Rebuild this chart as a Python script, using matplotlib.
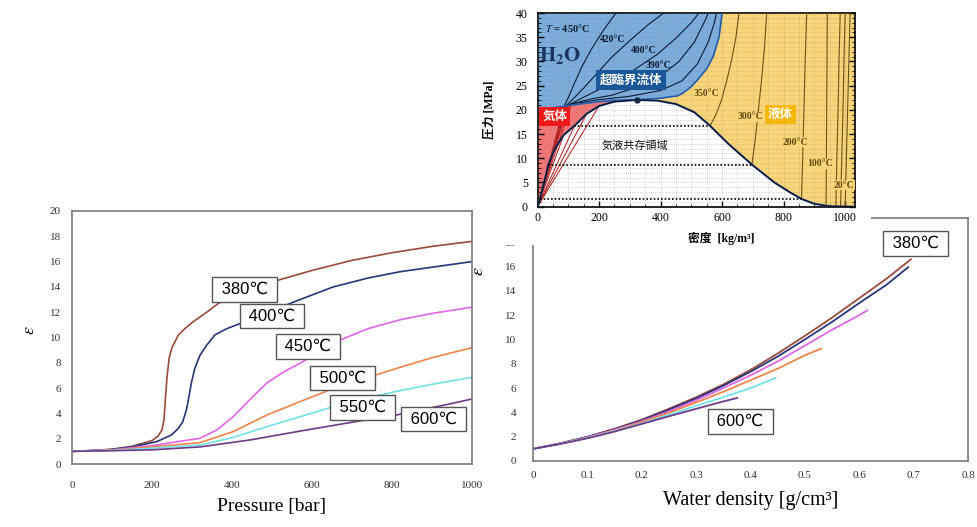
import numpy as np
import matplotlib.pyplot as plt
from matplotlib.ticker import MultipleLocator

plt.rcParams['mathtext.fontset'] = 'stix'

SERIF = ['Liberation Serif', 'DejaVu Serif']
SANS = ['Liberation Sans', 'DejaVu Sans']
JP = ['Liberation Serif', 'Noto Sans CJK JP']
JP_SANS = ['Noto Sans CJK JP', 'DejaVu Sans']

# ---------------- left chart: permittivity vs pressure ----------------
temps = ['380℃', '400℃', '450℃', '500℃', '550℃', '600℃']
colors = ['#9a4b3c', '#27357a', '#e066e6', '#f0854a', '#72e2e6', '#6e3a8a']

p_380 = [0, 50, 100, 150, 200, 215, 225, 230, 234, 238, 243, 250, 266, 282, 303, 337, 366, 431, 512, 600, 700, 800, 900, 1000]
e_380 = [1.0, 1.07, 1.17, 1.4, 1.85, 2.2, 2.7, 3.5, 5.4, 7.0, 8.4, 9.2, 10.2, 10.7, 11.25, 12.0, 12.7, 13.6, 14.5, 15.3, 16.1, 16.7, 17.2, 17.6]
p_400 = [0, 50, 100, 150, 212, 249, 266, 277, 287, 293, 299, 307, 320, 337, 357, 387, 420, 490, 562, 653, 740, 820, 910, 1000]
e_400 = [1.0, 1.06, 1.15, 1.35, 1.77, 2.3, 2.82, 3.35, 4.4, 5.45, 6.5, 7.56, 8.6, 9.4, 10.2, 10.7, 11.1, 12.0, 12.9, 14.0, 14.7, 15.2, 15.6, 16.0]
p_450 = [0, 100, 200, 260, 320, 362, 403, 445, 487, 530, 570, 620, 670, 740, 820, 900, 1000]
e_450 = [1.0, 1.12, 1.45, 1.75, 2.03, 2.69, 3.74, 5.1, 6.4, 7.3, 7.96, 8.9, 9.8, 10.7, 11.4, 11.9, 12.4]
p_500 = [0, 100, 200, 320, 403, 487, 570, 640, 700, 755, 820, 900, 1000]
e_500 = [1.0, 1.1, 1.35, 1.69, 2.56, 3.87, 4.93, 5.8, 6.4, 7.0, 7.64, 8.4, 9.2]
p_550 = [0, 100, 200, 320, 403, 487, 570, 650, 727, 805, 900, 1000]
e_550 = [1.0, 1.08, 1.25, 1.5, 2.1, 2.95, 3.74, 4.5, 5.15, 5.7, 6.3, 6.85]
p_600 = [0, 100, 200, 320, 445, 570, 700, 815, 937, 1000]
e_600 = [1.0, 1.05, 1.12, 1.35, 1.9, 2.6, 3.3, 3.9, 4.7, 5.14]

pressure_sets = [p_380, p_400, p_450, p_500, p_550, p_600]
eps_p_sets = [e_380, e_400, e_450, e_500, e_550, e_600]
# label box centres (pressure, eps)
lab_p = [431, 500, 590, 676, 727, 904]
lab_e = [13.8, 11.7, 9.3, 6.8, 4.47, 3.56]

# ---------------- right chart: permittivity vs density ----------------
d_380 = [0, 0.05, 0.1, 0.15, 0.2, 0.25, 0.3, 0.35, 0.4, 0.45, 0.5, 0.55, 0.6, 0.65, 0.695]
f_380 = [1.0, 1.45, 2.0, 2.65, 3.4, 4.3, 5.25, 6.3, 7.5, 8.85, 10.3, 11.8, 13.4, 15.0, 16.6]
d_400 = [0, 0.05, 0.1, 0.15, 0.2, 0.25, 0.3, 0.35, 0.4, 0.45, 0.5, 0.55, 0.6, 0.65, 0.69]
f_400 = [1.0, 1.45, 1.98, 2.62, 3.35, 4.22, 5.15, 6.2, 7.35, 8.6, 10.0, 11.45, 13.0, 14.5, 15.95]
d_450 = [0, 0.05, 0.1, 0.15, 0.2, 0.25, 0.3, 0.35, 0.4, 0.45, 0.5, 0.55, 0.6, 0.615]
f_450 = [1.0, 1.43, 1.95, 2.57, 3.27, 4.08, 5.0, 6.0, 7.05, 8.2, 9.5, 10.8, 12.0, 12.4]
d_500 = [0, 0.05, 0.1, 0.15, 0.2, 0.25, 0.3, 0.35, 0.4, 0.45, 0.5, 0.53]
f_500 = [1.0, 1.42, 1.92, 2.52, 3.2, 3.98, 4.82, 5.7, 6.65, 7.6, 8.7, 9.25]
d_550 = [0, 0.05, 0.1, 0.15, 0.2, 0.25, 0.3, 0.35, 0.4, 0.446]
f_550 = [1.0, 1.41, 1.9, 2.47, 3.1, 3.8, 4.55, 5.25, 6.0, 6.83]
d_600 = [0, 0.05, 0.1, 0.15, 0.2, 0.25, 0.3, 0.35, 0.3755]
f_600 = [1.0, 1.4, 1.87, 2.42, 3.05, 3.68, 4.3, 4.9, 5.19]

dens_sets = [d_380, d_400, d_450, d_500, d_550, d_600]
eps_d_sets = [f_380, f_400, f_450, f_500, f_550, f_600]

# ---------------- phase diagram of water ----------------
vap_rho = [0, 8, 18, 35, 55, 85, 120, 160, 200, 250, 322]
vap_p = [0, 1.6, 4.0, 8.7, 11.8, 14.8, 16.7, 19.2, 20.8, 21.7, 22.06]
liq_rho = [322, 390, 450, 510, 561, 620, 697, 770, 820, 858, 900, 948, 1032]
liq_p = [22.06, 21.9, 21.2, 19.5, 16.7, 13.0, 8.7, 5.0, 3.0, 1.6, 0.6, 0.1, 0.0]
gas_top_rho = [0, 50, 100, 150, 200, 250, 322]
gas_top_p = [20.0, 20.4, 20.9, 21.3, 21.7, 21.95, 22.06]
crit_rho = [322, 400, 455, 474, 500, 523, 550, 571, 590, 600]
crit_p = [22.06, 22.4, 22.9, 23.5, 24.8, 26.4, 28.5, 31.0, 35.0, 40.0]

sc_iso = {
    450: ([85, 100, 120, 145, 175, 215, 255], [20.5, 22.5, 25.5, 29.0, 32.5, 36.5, 40.0]),
    420: ([90, 115, 150, 190, 240, 300, 360, 410], [20.7, 22.2, 24.5, 27.3, 30.8, 34.3, 37.6, 40.0]),
    400: ([95, 140, 200, 260, 320, 390, 450, 500, 525], [20.8, 22.3, 24.2, 26.2, 28.5, 31.5, 34.8, 38.0, 40.0]),
    390: ([100, 170, 240, 320, 400, 460, 510, 545, 555], [21.0, 22.2, 23.0, 24.6, 27.0, 30.0, 34.0, 38.5, 40.0]),
    380: ([110, 200, 300, 400, 470, 520, 555, 575, 582], [21.2, 22.1, 22.8, 24.0, 26.0, 29.5, 34.0, 38.0, 40.0]),
}
gas_rho_end = [85, 90, 95, 100, 110, 55, 85, 120, 160, 200]
gas_p_end = [20.5, 20.7, 20.8, 21.0, 21.2, 11.8, 14.8, 16.7, 19.2, 20.8]

liq_iso = {
    350: ([561, 580, 598, 615, 630, 645, 655], [16.7, 19.0, 22.0, 26.0, 30.0, 35.0, 40.0]),
    300: ([697, 708, 718, 728, 738, 745], [8.7, 14.0, 20.0, 26.0, 33.0, 40.0]),
    200: ([858, 862, 866, 870, 875], [1.6, 10.0, 20.0, 30.0, 40.0]),
    100: ([938, 939, 940, 941, 942], [0.1, 10.0, 20.0, 30.0, 40.0]),
    50: ([970, 973, 977, 980, 984], [0.0, 10.0, 20.0, 30.0, 40.0]),
    20: ([985, 989, 993, 996, 1000], [0.0, 10.0, 20.0, 30.0, 40.0]),
    0: ([1000, 1004, 1008, 1012, 1016], [0.0, 10.0, 20.0, 30.0, 40.0]),
}
tie_p = [16.7, 8.7, 1.6]
tie_rho_v = [120, 35, 8]
tie_rho_l = [561, 697, 858]


fig = plt.figure(figsize=(9.78, 5.27), dpi=100)
W, H = 978.0, 527.0


def frac(x0, y_top, x1, y_bot):
    return [x0 / W, 1 - y_bot / H, (x1 - x0) / W, (y_bot - y_top) / H]


box_kw = dict(boxstyle='square,pad=0.28', fc='white', ec='#555555', lw=1.0)

# ---- left chart ----
ax1 = fig.add_axes(frac(72, 211, 472, 464))
for p, e, c in zip(pressure_sets, eps_p_sets, colors):
    ax1.plot(p, e, color=c, lw=1.2, zorder=2)
for t, x, y in zip(temps, lab_p, lab_e):
    ax1.text(x, y, ' ' + t + ' ', ha='center', va='center', fontsize=12,
             family=SANS, bbox=box_kw, zorder=4)
ax1.set_xlim(0, 1000)
ax1.set_ylim(0, 20)
ax1.set_xticks(range(0, 1001, 200))
ax1.set_yticks(range(0, 21, 2))
ax1.tick_params(length=0, labelsize=8, labelcolor='#333333')
ax1.tick_params(axis='x', pad=12)
ax1.tick_params(axis='y', pad=8)
for lab in ax1.get_xticklabels() + ax1.get_yticklabels():
    lab.set_family(SERIF)
for s in ax1.spines.values():
    s.set_color('#7a7a7a')
    s.set_linewidth(1.2)
ax1.set_xlabel('Pressure [bar]', fontsize=14, family=SERIF, labelpad=6)
ax1.set_ylabel(r'$\varepsilon$', fontsize=13)
ax1.yaxis.set_label_coords(-0.085, 0.53)

# ---- right chart ----
ax2 = fig.add_axes(frac(533, 218, 968, 461))
ax2.set_zorder(1)
for d, e, c in zip(dens_sets, eps_d_sets, colors):
    ax2.plot(d, e, color=c, lw=1.3)
ax2.text(0.704, 17.9, ' ' + temps[0] + ' ', ha='center', va='center', fontsize=12,
         family=SANS, bbox=box_kw, zorder=4)
ax2.text(0.381, 3.24, ' ' + temps[-1] + ' ', ha='center', va='center', fontsize=12,
         family=SANS, bbox=box_kw, zorder=4)
ax2.set_xlim(0, 0.8)
ax2.set_ylim(0, 20)
ax2.set_xticks(np.arange(0, 0.81, 0.1))
ax2.set_xticklabels(['0', '0.1', '0.2', '0.3', '0.4', '0.5', '0.6', '0.7', '0.8'])
ax2.set_yticks(range(0, 21, 2))
ax2.tick_params(length=0, labelsize=8, labelcolor='#333333')
ax2.tick_params(axis='x', pad=7)
ax2.tick_params(axis='y', pad=12)
for lab in ax2.get_xticklabels() + ax2.get_yticklabels():
    lab.set_family(SERIF)
for s in ax2.spines.values():
    s.set_color('#7a7a7a')
    s.set_linewidth(1.2)
ax2.set_xlabel('Water density [g/cm³]', fontsize=14.5, family=SERIF, labelpad=8)
ax2.set_ylabel(r'$\varepsilon$', fontsize=13)
ax2.yaxis.set_label_coords(-0.106, 0.78)

# ---- phase diagram (white backing + axes) ----
bg = fig.add_axes(frac(490, 0, 871, 245))
bg.set_zorder(5)
bg.set_xticks([])
bg.set_yticks([])
bg.set_facecolor('white')
for s in bg.spines.values():
    s.set_visible(False)

ax3 = fig.add_axes(frac(537.5, 13, 855, 206.7))
ax3.set_zorder(6)
ax3.set_facecolor('#f9d577')
ax3.set_xlim(0, 1032)
ax3.set_ylim(0, 40)

# coexistence dome
dome_rho = vap_rho + liq_rho[1:]
dome_p = vap_p + liq_p[1:]
ax3.fill(dome_rho + [1032, 0], dome_p + [0, 0], color='white', zorder=1)
# gas region
ax3.fill(vap_rho + gas_top_rho[::-1], vap_p + gas_top_p[::-1], color='#f27676', zorder=1)
# supercritical region
ax3.fill(gas_top_rho + crit_rho[1:] + [0], gas_top_p + crit_p[1:] + [40], color='#7aacdc', zorder=1)

for r, p in zip(gas_rho_end, gas_p_end):
    ax3.plot([0, r], [0, p], color='#b31414', lw=0.7, zorder=2)
for T, (r, p) in sc_iso.items():
    ax3.plot(r, p, color='#0d1b33', lw=0.8, zorder=3)
for T, (r, p) in liq_iso.items():
    ax3.plot(r, p, color='#6b5514', lw=0.8, zorder=3)
ax3.plot(gas_top_rho + crit_rho[1:], gas_top_p + crit_p[1:], color='#2a5da8', lw=1.2, zorder=3)
ax3.plot(dome_rho, dome_p, color='#1d3f7a', lw=1.5, zorder=3)
ax3.plot(dome_rho, dome_p, color='black', lw=0.5, zorder=3)
for p, r0, r1 in zip(tie_p, tie_rho_v, tie_rho_l):
    ax3.plot([r0, r1], [p, p], color='black', lw=1.2, ls=(0, (1, 1.2)), zorder=3)
ax3.plot([crit_rho[0]], [crit_p[0]], 'o', color='#15233f', ms=3.5, zorder=4)

ax3.xaxis.set_minor_locator(MultipleLocator(50))
ax3.yaxis.set_minor_locator(MultipleLocator(1))
ax3.grid(which='both', color='#8a8a8a', lw=0.5, ls=(0, (1, 2)), alpha=0.7, zorder=2)
ax3.set_axisbelow(False)
ax3.set_xticks(range(0, 1001, 200))
ax3.set_yticks(range(0, 41, 5))
ax3.tick_params(which='both', direction='in', right=True, top=False)
ax3.tick_params(which='major', length=4, width=1, labelsize=8.5, pad=4)
ax3.tick_params(which='minor', length=2, width=0.6)
ax3.tick_params(axis='y', pad=7)
for lab in ax3.get_xticklabels() + ax3.get_yticklabels():
    lab.set_family(SERIF)
for s in ax3.spines.values():
    s.set_linewidth(1.2)
ax3.set_ylabel('圧力 [MPa]', family=JP, fontsize=8.5, fontweight='bold')
ax3.yaxis.set_label_coords(-0.131, 0.5)
ax3.set_xlabel('密度  [kg/m³]', family=JP, fontsize=8.5, fontweight='bold')
ax3.xaxis.set_label_coords(0.58, -0.13)

ax3.text(25, 36.8, r'$T$ = 450°C', family=SERIF, fontsize=7.5, fontweight='bold',
         color='#0d1b33', va='center', zorder=5)
ax3.text(4, 31.3, r'$\mathbf{H_2O}$', fontsize=15, color='#1b3560', va='center', zorder=5)
ax3.text(245, 34.6, '420°C', family=SERIF, fontsize=7, fontweight='bold', color='#0d1b33', ha='center', va='center', zorder=5)
ax3.text(345, 32.3, '400°C', family=SERIF, fontsize=7, fontweight='bold', color='#0d1b33', ha='center', va='center', zorder=5)
ax3.text(393, 29.2, '390°C', family=SERIF, fontsize=7, fontweight='bold', color='#0d1b33', ha='center', va='center', zorder=5)
ax3.text(304, 26.2, '超臨界流体', family=JP_SANS, fontsize=9, fontweight='bold', color='white',
         ha='center', va='center', zorder=6,
         bbox=dict(boxstyle='square,pad=0.3', fc='#1a5799', ec='none'))
ax3.text(56, 18.7, '気体', family=JP_SANS, fontsize=9, fontweight='bold', color='white',
         ha='center', va='center', zorder=6,
         bbox=dict(boxstyle='square,pad=0.25', fc='#f01818', ec='none'))
ax3.text(790, 19.0, '液体', family=JP_SANS, fontsize=9, fontweight='bold', color='white',
         ha='center', va='center', zorder=6,
         bbox=dict(boxstyle='square,pad=0.25', fc='#f8b80a', ec='none'))
ax3.text(317, 12.6, '気液共存領域', family=JP_SANS, fontsize=8, color='#111111',
         ha='center', va='center', zorder=6)

liq_lab = [('350°C', 550, 23.3), ('300°C', 693, 18.6), ('200°C', 837, 13.3),
           ('100°C', 917, 8.9), ('20°C', 997, 4.4)]
for txt, x, y in liq_lab:
    ax3.text(x, y, txt, family=SERIF, fontsize=7, fontweight='bold', color='#5e4a12',
             ha='center', va='center', zorder=6,
             bbox=dict(boxstyle='square,pad=0.05', fc='#f9d577', ec='none'))

fig.savefig('out.png', dpi=100)
